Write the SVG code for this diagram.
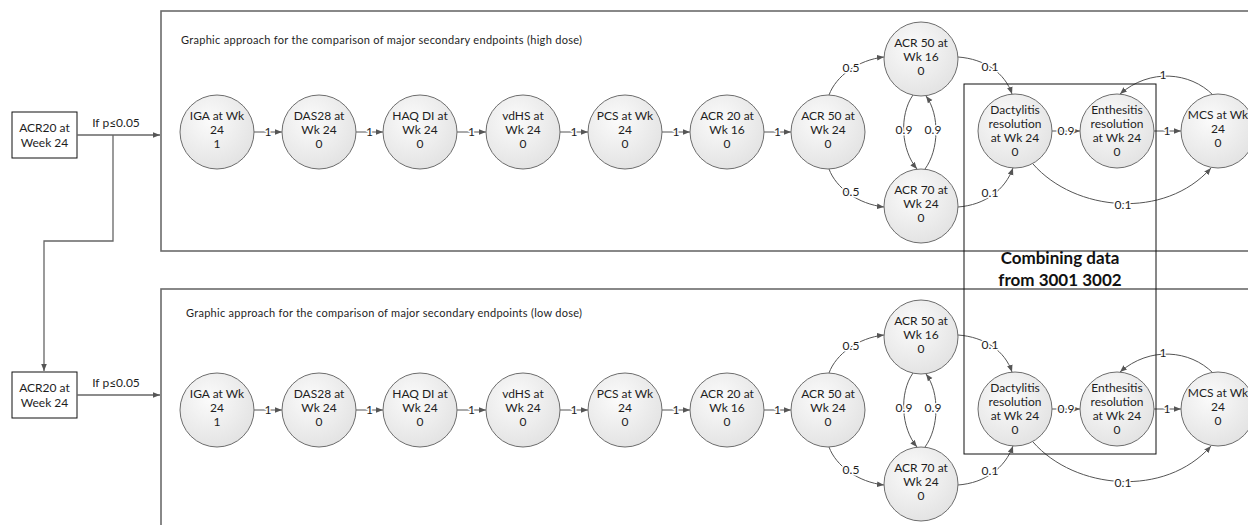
<svg xmlns="http://www.w3.org/2000/svg" width="1248" height="525" viewBox="0 0 1248 525">
<style>
text{font-family:Lato,"Liberation Sans",Arial,sans-serif;fill:#1e1e1e}
.nt{font-size:12px;text-anchor:middle}
.lb{font-size:12px;text-anchor:middle;stroke:#fff;stroke-width:3px;paint-order:stroke;stroke-linejoin:round}
.ttl{font-size:11px}
.big{font-size:17px;font-weight:bold;text-anchor:middle;fill:#111}
.nd{fill:url(#g);stroke:#6d6d6d;stroke-width:1}
.box{fill:#fff;stroke:#111;stroke-width:1}
.cont{fill:#fff;stroke:#6b6b6b;stroke-width:1.6}
.cn{fill:none;stroke:#555;stroke-width:1;marker-end:url(#arr)}
.ln{fill:none;stroke:#666;stroke-width:1.3}
</style>
<defs>
<radialGradient id="g" cx="40%" cy="35%" r="70%">
<stop offset="0" stop-color="#fbfbfb"/>
<stop offset="1" stop-color="#e2e2e2"/>
</radialGradient>
<marker id="arr" viewBox="0 0 10 10" refX="10" refY="5" markerWidth="7" markerHeight="7" markerUnits="userSpaceOnUse" orient="auto">
<path d="M0,1 L10,5 L0,9 z" fill="#555"/>
</marker>
</defs>

<!-- containers -->
<g id="container-high">
<rect class="cont" x="161" y="11" width="1100" height="240"/>
<text class="ttl" x="181" y="44" textLength="401" lengthAdjust="spacing">Graphic approach for the comparison of major secondary endpoints (high dose)</text>
</g>
<g id="container-low">
<rect class="cont" x="161" y="289" width="1100" height="300"/>
<text class="ttl" x="186" y="317" textLength="396" lengthAdjust="spacing">Graphic approach for the comparison of major secondary endpoints (low dose)</text>
</g>

<!-- left boxes -->
<g id="box-acr20-top">
<rect class="box" x="12" y="112" width="65" height="46"/>
<text class="nt" x="44.5" y="132">ACR20 at</text>
<text class="nt" x="44.5" y="147">Week 24</text>
</g>
<g id="box-acr20-bottom">
<rect class="box" x="12" y="372" width="65" height="46"/>
<text class="nt" x="44.5" y="392">ACR20 at</text>
<text class="nt" x="44.5" y="407">Week 24</text>
</g>

<!-- connectors -->
<g id="connectors">
<path class="ln" d="M77 135 H160" marker-end="url(#arr)"/>
<path class="ln" d="M113 135 V241 H44 V371" marker-end="url(#arr)"/>
<path class="ln" d="M77 395 H160" marker-end="url(#arr)"/>
<text class="nt" x="116" y="127">If p≤0.05</text>
<text class="nt" x="116" y="387">If p≤0.05</text>

<g id="connectors-high">
<path class="cn" d="M254 132 H282"/><text class="lb" x="268" y="136">1</text>
<path class="cn" d="M356 132 H383"/><text class="lb" x="369.5" y="136">1</text>
<path class="cn" d="M457 132 H486"/><text class="lb" x="471.5" y="136">1</text>
<path class="cn" d="M560 132 H588"/><text class="lb" x="574" y="136">1</text>
<path class="cn" d="M662 132 H690"/><text class="lb" x="676" y="136">1</text>
<path class="cn" d="M764 132 H791"/><text class="lb" x="777.5" y="136">1</text>
<path class="cn" d="M829 95 C836 76 858 60 884 57"/><text class="lb" x="851" y="72">0.5</text>
<path class="cn" d="M829 169 C836 188 858 204 884 207"/><text class="lb" x="851" y="196">0.5</text>
<path class="cn" d="M913 95 C899 115 901 150 917 169"/><text class="lb" x="904" y="134">0.9</text>
<path class="cn" d="M925 169 C939 150 940 115 926 96"/><text class="lb" x="933" y="134">0.9</text>
<path class="cn" d="M958 57 C985 59 1005 73 1012 94"/><text class="lb" x="990" y="71">0.1</text>
<path class="cn" d="M958 207 C985 205 1005 190 1013 168"/><text class="lb" x="990" y="197">0.1</text>
<path class="cn" d="M1052 131 H1080"/><text class="lb" x="1066" y="135">0.9</text>
<path class="cn" d="M1154 131 H1181"/><text class="lb" x="1167" y="135">1</text>
<path class="cn" d="M1213 95 C1190 72 1150 68 1120 94"/><text class="lb" x="1163" y="79">1</text>
<path class="cn" d="M1033 164 C1075 212 1165 220 1211 168"/><text class="lb" x="1123" y="209">0.1</text>
</g>

<g id="connectors-low" transform="translate(0,278)">
<path class="cn" d="M254 132 H282"/><text class="lb" x="268" y="136">1</text>
<path class="cn" d="M356 132 H383"/><text class="lb" x="369.5" y="136">1</text>
<path class="cn" d="M457 132 H486"/><text class="lb" x="471.5" y="136">1</text>
<path class="cn" d="M560 132 H588"/><text class="lb" x="574" y="136">1</text>
<path class="cn" d="M662 132 H690"/><text class="lb" x="676" y="136">1</text>
<path class="cn" d="M764 132 H791"/><text class="lb" x="777.5" y="136">1</text>
<path class="cn" d="M829 95 C836 76 858 60 884 57"/><text class="lb" x="851" y="72">0.5</text>
<path class="cn" d="M829 169 C836 188 858 204 884 207"/><text class="lb" x="851" y="196">0.5</text>
<path class="cn" d="M913 95 C899 115 901 150 917 169"/><text class="lb" x="904" y="134">0.9</text>
<path class="cn" d="M925 169 C939 150 940 115 926 96"/><text class="lb" x="933" y="134">0.9</text>
<path class="cn" d="M958 57 C985 59 1005 73 1012 94"/><text class="lb" x="990" y="71">0.1</text>
<path class="cn" d="M958 207 C985 205 1005 190 1013 168"/><text class="lb" x="990" y="197">0.1</text>
<path class="cn" d="M1052 131 H1080"/><text class="lb" x="1066" y="135">0.9</text>
<path class="cn" d="M1154 131 H1181"/><text class="lb" x="1167" y="135">1</text>
<path class="cn" d="M1213 95 C1190 72 1150 68 1120 94"/><text class="lb" x="1163" y="79">1</text>
<path class="cn" d="M1033 164 C1075 212 1165 220 1211 168"/><text class="lb" x="1123" y="209">0.1</text>
</g>
</g>

<!-- nodes high dose -->
<g id="high-iga" transform="translate(217,132)"><circle class="nd" r="37"/><text class="nt" y="-12">IGA at Wk</text><text class="nt" y="2">24</text><text class="nt" y="16">1</text></g>
<g id="high-das28" transform="translate(319,132)"><circle class="nd" r="37"/><text class="nt" y="-12">DAS28 at</text><text class="nt" y="2">Wk 24</text><text class="nt" y="16">0</text></g>
<g id="high-haq" transform="translate(420,132)"><circle class="nd" r="37"/><text class="nt" y="-12">HAQ DI at</text><text class="nt" y="2">Wk 24</text><text class="nt" y="16">0</text></g>
<g id="high-vdhs" transform="translate(523,132)"><circle class="nd" r="37"/><text class="nt" y="-12">vdHS at</text><text class="nt" y="2">Wk 24</text><text class="nt" y="16">0</text></g>
<g id="high-pcs" transform="translate(625,132)"><circle class="nd" r="37"/><text class="nt" y="-12">PCS at Wk</text><text class="nt" y="2">24</text><text class="nt" y="16">0</text></g>
<g id="high-acr20" transform="translate(727,132)"><circle class="nd" r="37"/><text class="nt" y="-12">ACR 20 at</text><text class="nt" y="2">Wk 16</text><text class="nt" y="16">0</text></g>
<g id="high-acr50-24" transform="translate(828,132)"><circle class="nd" r="37"/><text class="nt" y="-12">ACR 50 at</text><text class="nt" y="2">Wk 24</text><text class="nt" y="16">0</text></g>
<g id="high-acr50-16" transform="translate(921,59)"><circle class="nd" r="37"/><text class="nt" y="-12">ACR 50 at</text><text class="nt" y="2">Wk 16</text><text class="nt" y="16">0</text></g>
<g id="high-acr70" transform="translate(921,206)"><circle class="nd" r="37"/><text class="nt" y="-12">ACR 70 at</text><text class="nt" y="2">Wk 24</text><text class="nt" y="16">0</text></g>
<g id="high-dact" transform="translate(1015,131)"><circle class="nd" r="37"/><text class="nt" y="-17">Dactylitis</text><text class="nt" y="-3">resolution</text><text class="nt" y="11">at Wk 24</text><text class="nt" y="25">0</text></g>
<g id="high-enth" transform="translate(1117,131)"><circle class="nd" r="37"/><text class="nt" y="-17">Enthesitis</text><text class="nt" y="-3">resolution</text><text class="nt" y="11">at Wk 24</text><text class="nt" y="25">0</text></g>
<g id="high-mcs" transform="translate(1218,131)"><circle class="nd" r="37"/><text class="nt" y="-12">MCS at Wk</text><text class="nt" y="2">24</text><text class="nt" y="16">0</text></g>

<!-- nodes low dose -->
<g id="low-iga" transform="translate(217,410)"><circle class="nd" r="37"/><text class="nt" y="-12">IGA at Wk</text><text class="nt" y="2">24</text><text class="nt" y="16">1</text></g>
<g id="low-das28" transform="translate(319,410)"><circle class="nd" r="37"/><text class="nt" y="-12">DAS28 at</text><text class="nt" y="2">Wk 24</text><text class="nt" y="16">0</text></g>
<g id="low-haq" transform="translate(420,410)"><circle class="nd" r="37"/><text class="nt" y="-12">HAQ DI at</text><text class="nt" y="2">Wk 24</text><text class="nt" y="16">0</text></g>
<g id="low-vdhs" transform="translate(523,410)"><circle class="nd" r="37"/><text class="nt" y="-12">vdHS at</text><text class="nt" y="2">Wk 24</text><text class="nt" y="16">0</text></g>
<g id="low-pcs" transform="translate(625,410)"><circle class="nd" r="37"/><text class="nt" y="-12">PCS at Wk</text><text class="nt" y="2">24</text><text class="nt" y="16">0</text></g>
<g id="low-acr20" transform="translate(727,410)"><circle class="nd" r="37"/><text class="nt" y="-12">ACR 20 at</text><text class="nt" y="2">Wk 16</text><text class="nt" y="16">0</text></g>
<g id="low-acr50-24" transform="translate(828,410)"><circle class="nd" r="37"/><text class="nt" y="-12">ACR 50 at</text><text class="nt" y="2">Wk 24</text><text class="nt" y="16">0</text></g>
<g id="low-acr50-16" transform="translate(921,337)"><circle class="nd" r="37"/><text class="nt" y="-12">ACR 50 at</text><text class="nt" y="2">Wk 16</text><text class="nt" y="16">0</text></g>
<g id="low-acr70" transform="translate(921,484)"><circle class="nd" r="37"/><text class="nt" y="-12">ACR 70 at</text><text class="nt" y="2">Wk 24</text><text class="nt" y="16">0</text></g>
<g id="low-dact" transform="translate(1015,409)"><circle class="nd" r="37"/><text class="nt" y="-17">Dactylitis</text><text class="nt" y="-3">resolution</text><text class="nt" y="11">at Wk 24</text><text class="nt" y="25">0</text></g>
<g id="low-enth" transform="translate(1117,409)"><circle class="nd" r="37"/><text class="nt" y="-17">Enthesitis</text><text class="nt" y="-3">resolution</text><text class="nt" y="11">at Wk 24</text><text class="nt" y="25">0</text></g>
<g id="low-mcs" transform="translate(1218,409)"><circle class="nd" r="37"/><text class="nt" y="-12">MCS at Wk</text><text class="nt" y="2">24</text><text class="nt" y="16">0</text></g>

<!-- combining region -->
<g id="combining">
<rect x="964" y="84" width="192" height="370" fill="none" stroke="#111" stroke-width="1"/>
<text class="big" x="1060" y="264">Combining data</text>
<text class="big" x="1060" y="286">from 3001 3002</text>
</g>
</svg>
